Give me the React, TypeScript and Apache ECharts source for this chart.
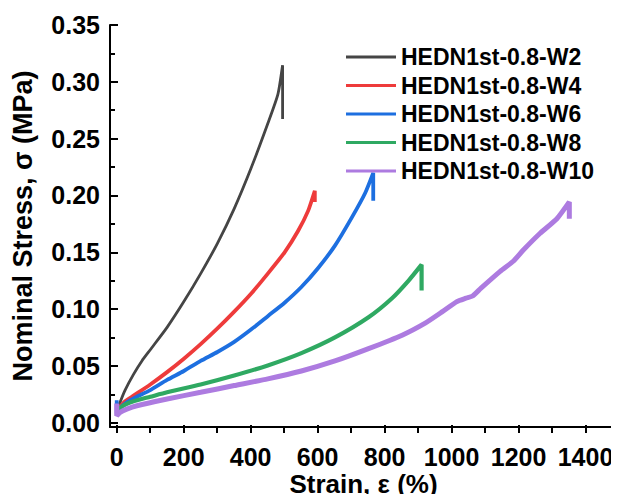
import React, { useEffect, useRef } from "react";
import * as echarts from "echarts";

const FONT = "'Liberation Sans', Arial, Helvetica, sans-serif";

const seriesNames = [
  "HEDN1st-0.8-W2",
  "HEDN1st-0.8-W4",
  "HEDN1st-0.8-W6",
  "HEDN1st-0.8-W8",
  "HEDN1st-0.8-W10",
];
const seriesColors = ["#454545", "#ee3b3b", "#1d6fe0", "#2fa962", "#ad7be0"];
const seriesWidths = [2.8, 3.8, 3.8, 4.2, 5];

const w2: [number, number][] = [
  [0, 0.004], [10, 0.013], [25, 0.024], [50, 0.038], [75, 0.05], [100, 0.06],
  [150, 0.08], [200, 0.103], [250, 0.128], [300, 0.155], [350, 0.186],
  [400, 0.222], [450, 0.262], [480, 0.288], [494, 0.314], [494, 0.266],
];
const w4: [number, number][] = [
  [0, 0.004], [10, 0.009], [25, 0.014], [50, 0.019], [100, 0.029], [150, 0.04],
  [200, 0.052], [250, 0.065], [300, 0.079], [350, 0.094], [400, 0.11],
  [450, 0.128], [500, 0.147], [540, 0.166], [570, 0.184], [590, 0.202],
  [590, 0.192],
];
const w6: [number, number][] = [
  [0, 0.015], [0, 0.003], [10, 0.008], [30, 0.013], [60, 0.018], [100, 0.024],
  [150, 0.033], [200, 0.041], [250, 0.05], [300, 0.058], [350, 0.067],
  [400, 0.078], [450, 0.09], [500, 0.102], [550, 0.116], [600, 0.133],
  [650, 0.153], [700, 0.178], [740, 0.2], [764, 0.218], [764, 0.193],
];
const w8: [number, number][] = [
  [0, 0.004], [10, 0.008], [25, 0.011], [50, 0.014], [100, 0.018], [150, 0.022],
  [250, 0.029], [350, 0.037], [450, 0.046], [550, 0.057], [650, 0.071],
  [750, 0.089], [820, 0.106], [870, 0.122], [908, 0.136], [908, 0.113],
];
const w10: [number, number][] = [
  [0, 0.012], [0, 0.001], [10, 0.004], [30, 0.007], [60, 0.01], [150, 0.016],
  [250, 0.022], [350, 0.028], [450, 0.034], [550, 0.041], [650, 0.05],
  [750, 0.061], [850, 0.073], [920, 0.084], [970, 0.094], [1013, 0.103],
  [1040, 0.106], [1060, 0.108], [1085, 0.115], [1142, 0.13], [1181, 0.139],
  [1211, 0.149], [1261, 0.164], [1311, 0.177], [1348, 0.192], [1348, 0.177],
];
const seriesData = [w2, w4, w6, w8, w10];

// axis ranges and ticks
const X_MIN = -20;
const X_MAX = 1490;
const X_TICK_MAX = 1500;
const X_INTERVAL = 200;
const Y_MIN = -0.009;
const Y_MAX = 0.35;
const Y_INTERVAL = 0.05;

const W = 619;
const H = 502;
const GRID_LEFT = 110;
const GRID_RIGHT = 2;
const GRID_TOP = 25;
const GRID_BOTTOM = 69;

export default function App() {
  const ref = useRef<HTMLDivElement>(null);
  useEffect(() => {
    if (!ref.current) return;
    const chart = echarts.init(ref.current, null, { renderer: "svg" });
    const black = { color: "#000", width: 2 };
    const labelStyle = {
      fontSize: 25,
      fontWeight: "bold" as const,
      color: "#000",
      fontFamily: FONT,
    };
    const titleStyle = {
      fontSize: 26,
      fontWeight: "bold" as const,
      color: "#000",
      fontFamily: FONT,
    };

    // second grid carrying the ticks: its origin sits where the data axes have 0,
    // and its axes are offset back onto the data grid's edges
    const plotW = W - GRID_LEFT - GRID_RIGHT;
    const plotH = H - GRID_TOP - GRID_BOTTOM;
    const pxPerX = plotW / (X_MAX - X_MIN);
    const pxPerY = plotH / (Y_MAX - Y_MIN);
    const tickLeft = GRID_LEFT + (0 - X_MIN) * pxPerX;
    const tickRight = W - (tickLeft + X_TICK_MAX * pxPerX);
    const tickBottom = GRID_BOTTOM + (0 - Y_MIN) * pxPerY;

    const option: any = {
      animation: false,
      backgroundColor: "#fff",
      grid: [
        { left: GRID_LEFT, right: GRID_RIGHT, top: GRID_TOP, bottom: GRID_BOTTOM },
        { left: tickLeft, right: tickRight, top: GRID_TOP, bottom: tickBottom },
      ],
      legend: {
        orient: "vertical",
        left: 341,
        top: 40,
        icon: "rect",
        itemWidth: 50,
        itemHeight: 3,
        itemGap: 4.5,
        data: seriesNames,
        textStyle: {
          fontSize: 23,
          fontWeight: "bold",
          color: "#000",
          fontFamily: FONT,
          lineHeight: 24,
        },
      },
      xAxis: [
        {
          type: "value",
          gridIndex: 0,
          min: X_MIN,
          max: X_MAX,
          axisLine: { show: true, onZero: false, lineStyle: black },
          axisTick: { show: false },
          axisLabel: { show: false },
          splitLine: { show: false },
          name: "Strain, ε (%)",
          nameLocation: "middle",
          nameGap: 44,
          nameTextStyle: titleStyle,
        },
        {
          type: "value",
          gridIndex: 1,
          min: 0,
          max: X_TICK_MAX,
          interval: X_INTERVAL,
          offset: tickBottom - GRID_BOTTOM,
          axisLine: { show: false, onZero: false },
          axisTick: { show: true, inside: true, length: 8, lineStyle: black },
          minorTick: { show: true, splitNumber: 2, length: 5, lineStyle: black },
          axisLabel: {
            ...labelStyle,
            margin: 11,
            showMaxLabel: false,
            formatter: (v: number) => String(v),
          },
          splitLine: { show: false },
          minorSplitLine: { show: false },
        },
      ],
      yAxis: [
        {
          type: "value",
          gridIndex: 0,
          min: Y_MIN,
          max: Y_MAX,
          axisLine: { show: true, onZero: false, lineStyle: black },
          axisTick: { show: false },
          axisLabel: { show: false },
          splitLine: { show: false },
          name: "Nominal Stress, σ (MPa)",
          nameLocation: "middle",
          nameGap: 74,
          nameTextStyle: { ...titleStyle, fontSize: 27 },
        },
        {
          type: "value",
          gridIndex: 0,
          min: Y_MIN,
          max: Y_MAX,
          position: "right",
          axisLine: { show: true, onZero: false, lineStyle: { color: "#c4c4c4", width: 1 } },
          axisTick: { show: false },
          axisLabel: { show: false },
          splitLine: { show: false },
        },
        {
          type: "value",
          gridIndex: 1,
          min: 0,
          max: Y_MAX,
          interval: Y_INTERVAL,
          offset: tickLeft - GRID_LEFT,
          axisLine: { show: false, onZero: false },
          axisTick: { show: true, inside: true, length: 8, lineStyle: black },
          minorTick: { show: true, splitNumber: 2, length: 5, lineStyle: black },
          axisLabel: {
            ...labelStyle,
            margin: 10,
            formatter: (v: number) => v.toFixed(2),
          },
          splitLine: { show: false },
          minorSplitLine: { show: false },
        },
      ],
      series: seriesNames.map((name, i) => ({
        name,
        type: "line",
        xAxisIndex: 0,
        yAxisIndex: 0,
        data: seriesData[i],
        showSymbol: false,
        symbol: "none",
        smooth: 0.2,
        lineStyle: { color: seriesColors[i], width: seriesWidths[i] },
        itemStyle: { color: seriesColors[i] },
      })),
    };
    chart.setOption(option);
    return () => chart.dispose();
  }, []);
  return <div ref={ref} style={{ width: W, height: H, margin: -8 }} />;
}
